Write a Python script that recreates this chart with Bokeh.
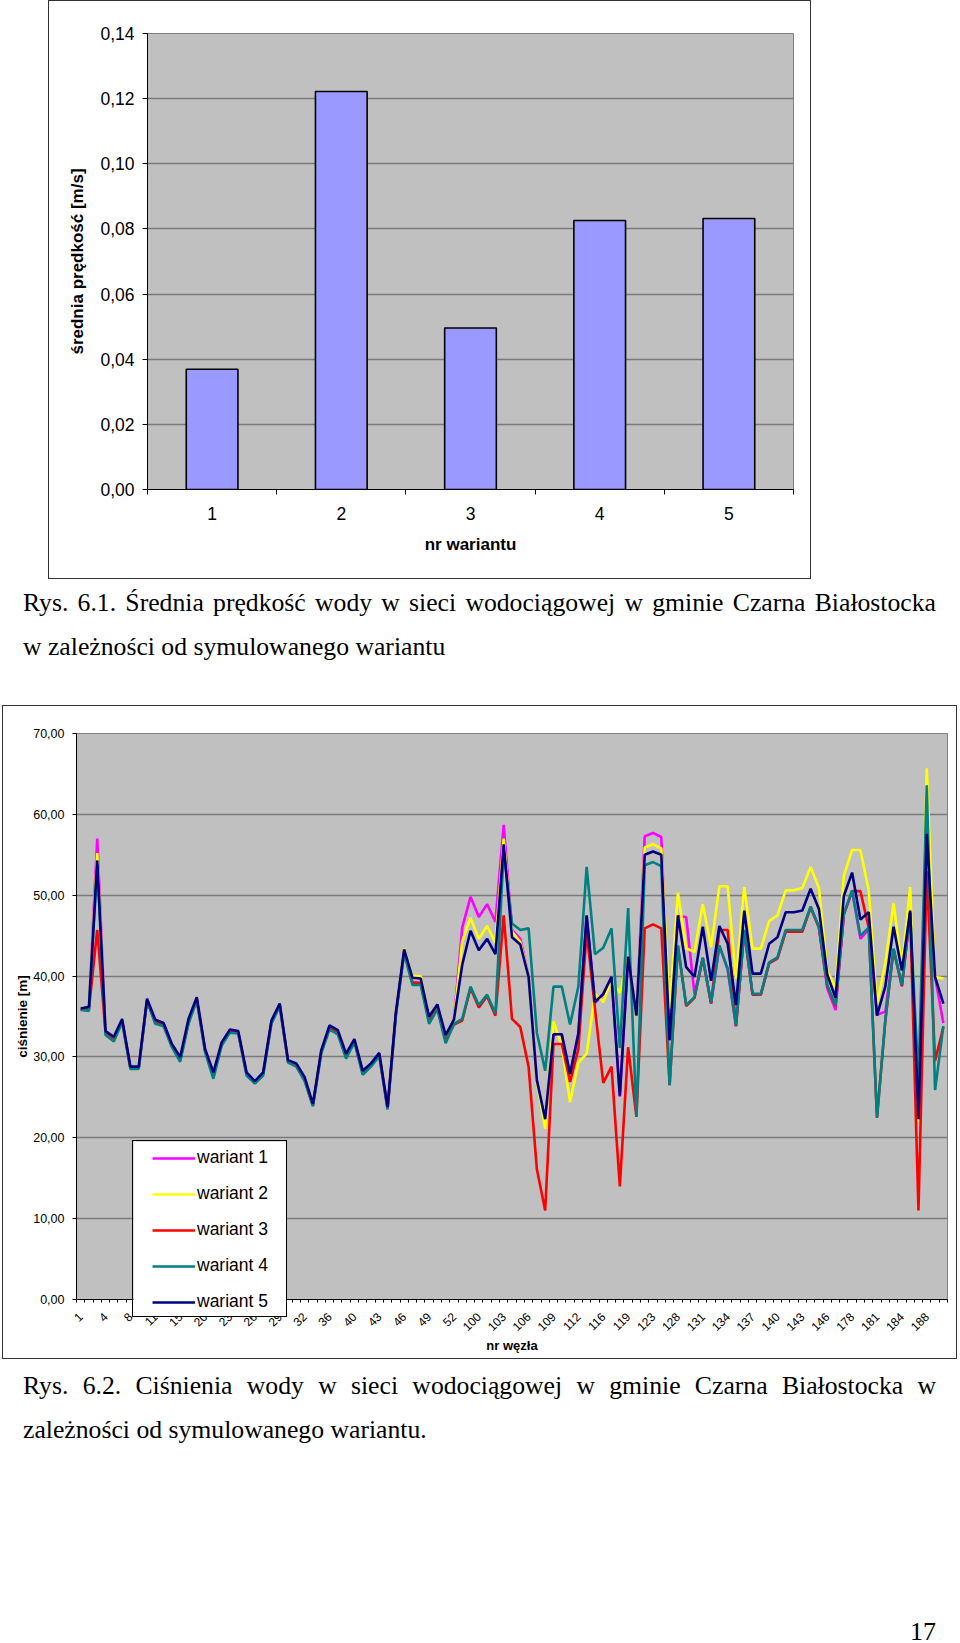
import math
from bokeh.plotting import figure
from bokeh.models import FixedTicker, Legend, LegendItem, Div
from bokeh.layouts import column
from bokeh.embed import file_html
from bokeh.resources import INLINE

# ---------------- chart 1 data ----------------
warianty = [1, 2, 3, 4, 5]
predkosc = [0.0369, 0.1222, 0.0496, 0.0826, 0.0832]
y1_ticks = [0.00, 0.02, 0.04, 0.06, 0.08, 0.10, 0.12, 0.14]
y1_labels = ["0,00", "0,02", "0,04", "0,06", "0,08", "0,10", "0,12", "0,14"]

# ---------------- chart 2 data ----------------
wezly_labels = ["1", "4", "8", "11", "15", "20", "23", "26", "29", "32", "36", "40",
                "43", "46", "49", "52", "100", "103", "106", "109", "112", "116",
                "119", "123", "128", "131", "134", "137", "140", "143", "146",
                "178", "181", "184", "188"]
label_step = 3
y2_ticks = [0, 10, 20, 30, 40, 50, 60, 70]
y2_labels = ["0,00", "10,00", "20,00", "30,00", "40,00", "50,00", "60,00", "70,00"]

wariant1 = [35.9, 36.0, 57.0, 33.0, 32.2, 34.5, 28.7, 28.7, 37.0, 34.3, 34.1, 31.4, 29.7, 34.4, 37.2,
            30.8, 27.7, 31.6, 33.2, 33.0, 27.9, 26.9, 27.9, 34.3, 36.4, 29.4, 29.0, 27.3, 24.0, 30.6,
            33.8, 33.0, 30.1, 32.0, 28.0, 29.0, 30.3, 23.6, 35.3, 43.2, 39.2, 39.2, 34.8, 36.3, 32.4,
            34.5, 46.0, 49.8, 47.3, 48.9, 46.7, 58.7, 45.7, 44.6, 40.0, 27.0, 22.0, 32.8, 32.8, 27.9,
            32.9, 47.4, 36.7, 37.7, 39.8, 25.1, 42.3, 35.0, 57.3, 57.7, 57.2, 32.0, 47.4, 47.3, 37.8,
            42.2, 36.6, 43.7, 40.8, 33.8, 45.6, 37.7, 37.7, 41.6, 42.2, 45.6, 45.6, 45.6, 48.5, 46.0,
            38.5, 35.8, 47.6, 50.5, 44.6, 45.8, 35.2, 35.6, 43.3, 38.7, 47.8, 22.2, 62.0, 39.9, 34.2]
wariant2 = [36.0, 36.1, 55.2, 33.1, 32.4, 34.6, 28.7, 28.7, 37.1, 34.5, 34.1, 31.5, 29.9, 34.6, 37.3,
            30.9, 28.0, 31.7, 33.3, 33.1, 28.0, 27.0, 28.0, 34.4, 36.5, 29.5, 29.1, 27.4, 24.1, 30.7,
            33.8, 33.2, 30.3, 32.1, 28.2, 29.1, 30.4, 23.7, 35.4, 43.4, 40.0, 40.0, 35.0, 36.4, 32.6,
            34.5, 44.3, 47.2, 44.6, 46.2, 44.1, 57.0, 45.5, 44.2, 40.0, 26.8, 21.1, 34.4, 31.4, 24.4,
            29.3, 30.4, 37.8, 36.8, 39.5, 37.9, 42.3, 35.0, 55.9, 56.3, 55.8, 36.0, 50.3, 43.4, 43.0,
            48.9, 43.6, 51.1, 51.1, 39.7, 51.0, 43.4, 43.4, 46.8, 47.5, 50.6, 50.6, 50.9, 53.5, 50.9,
            40.7, 38.5, 52.4, 55.6, 55.6, 50.6, 36.5, 41.6, 49.0, 41.2, 51.0, 22.0, 65.7, 39.9, 39.7]
wariant3 = [35.9, 35.9, 45.7, 33.0, 32.2, 34.5, 28.6, 28.6, 37.0, 34.3, 34.0, 31.4, 29.6, 34.3, 37.1,
            30.8, 27.6, 31.6, 33.2, 33.0, 27.9, 26.8, 27.9, 34.3, 36.4, 29.4, 29.0, 27.2, 24.0, 30.6,
            33.6, 33.0, 30.0, 32.0, 28.0, 29.0, 30.3, 23.6, 35.3, 43.0, 39.2, 39.1, 34.4, 36.1, 32.0,
            34.0, 34.5, 38.5, 36.1, 37.5, 35.1, 47.5, 34.7, 33.7, 28.8, 16.1, 11.0, 31.6, 31.6, 26.9,
            31.0, 45.5, 36.0, 26.8, 28.8, 14.0, 31.2, 22.6, 45.9, 46.4, 45.9, 26.5, 43.7, 36.3, 37.3,
            42.2, 36.6, 45.7, 45.7, 33.8, 45.6, 37.7, 37.7, 41.6, 42.2, 45.5, 45.5, 45.5, 48.5, 46.0,
            38.8, 36.3, 47.6, 50.5, 50.5, 46.0, 22.5, 34.4, 43.3, 38.8, 47.8, 11.0, 53.0, 29.5, 33.7]
wariant4 = [35.8, 35.7, 53.8, 32.7, 31.9, 34.3, 28.5, 28.5, 36.9, 34.1, 33.8, 31.2, 29.4, 34.1, 37.0,
            30.6, 27.3, 31.4, 33.0, 32.9, 27.7, 26.7, 27.7, 34.1, 36.3, 29.3, 28.8, 27.0, 23.9, 30.4,
            33.4, 32.8, 29.8, 31.8, 27.8, 28.8, 30.1, 23.5, 35.1, 42.8, 38.9, 38.9, 34.1, 35.9, 31.7,
            34.1, 34.7, 38.7, 36.4, 37.7, 35.4, 55.5, 46.5, 45.7, 45.9, 33.0, 28.3, 38.7, 38.7, 34.0,
            38.7, 53.5, 42.7, 43.5, 45.9, 31.1, 48.4, 22.6, 53.7, 54.1, 53.6, 26.5, 43.8, 36.4, 37.4,
            42.3, 36.7, 43.8, 40.9, 33.9, 45.7, 37.8, 37.8, 41.7, 42.3, 45.7, 45.7, 45.7, 48.6, 46.1,
            38.9, 36.4, 47.7, 50.6, 45.0, 46.0, 22.5, 34.5, 43.4, 38.9, 47.9, 27.0, 63.6, 25.9, 33.8]
wariant5 = [36.0, 36.2, 54.3, 33.2, 32.5, 34.7, 28.8, 28.8, 37.2, 34.6, 34.2, 31.6, 30.0, 34.7, 37.4,
            31.0, 28.1, 31.8, 33.4, 33.2, 28.1, 27.0, 28.1, 34.5, 36.6, 29.6, 29.2, 27.5, 24.2, 30.8,
            33.9, 33.3, 30.4, 32.2, 28.3, 29.2, 30.5, 23.8, 35.5, 43.3, 39.8, 39.7, 35.0, 36.5, 32.7,
            34.6, 41.4, 45.6, 43.2, 44.6, 42.7, 56.3, 44.8, 43.9, 39.9, 27.1, 22.3, 32.8, 32.8, 27.9,
            32.9, 47.5, 36.8, 37.8, 39.9, 25.2, 42.4, 35.1, 55.0, 55.4, 55.0, 32.1, 47.5, 41.1, 39.9,
            46.1, 39.4, 46.2, 44.0, 36.4, 48.1, 40.3, 40.3, 44.0, 44.8, 47.9, 47.9, 48.1, 50.8, 48.3,
            40.2, 37.3, 49.9, 52.8, 47.0, 47.9, 35.1, 38.7, 46.1, 40.7, 48.1, 22.3, 57.6, 39.9, 36.6]

series_names = ["wariant 1", "wariant 2", "wariant 3", "wariant 4", "wariant 5"]
series_colors = ["#FF00FF", "#FFFF00", "#FF0000", "#008080", "#000080"]
series_data = [wariant1, wariant2, wariant3, wariant4, wariant5]

SANS = "Liberation Sans"

# ---------------- chart 1 ----------------
p1 = figure(width=761, height=577, x_range=(0.5, 5.5), y_range=(0, 0.14),
            output_backend="svg", toolbar_location=None, frame_align=False,
            min_border_left=98, min_border_right=17, min_border_top=32, min_border_bottom=89,
            background_fill_color="#C0C0C0", border_fill_color="white",
            outline_line_color="#808080")
p1.vbar(x=warianty, top=predkosc, width=0.4, fill_color="#9999FF",
        line_color="black", line_width=1.6)

p1.yaxis.ticker = FixedTicker(ticks=y1_ticks)
p1.yaxis.major_label_overrides = {t: l for t, l in zip(y1_ticks, y1_labels)}
p1.yaxis.axis_label = "średnia prędkość [m/s]"
p1.xaxis.ticker = FixedTicker(ticks=warianty,
                              minor_ticks=[w - 0.5 for w in warianty] + [warianty[-1] + 0.5])
p1.xaxis.major_label_overrides = {w: str(w) for w in warianty}
p1.xaxis.axis_label = "nr wariantu"
for ax in (p1.xaxis[0], p1.yaxis[0]):
    ax.axis_line_color = "black"
    ax.major_label_text_font = SANS
    ax.major_label_text_font_size = "17.5px"
    ax.major_label_text_color = "black"
    ax.axis_label_text_font = SANS
    ax.axis_label_text_font_size = "17px"
    ax.axis_label_text_font_style = "bold"
    ax.axis_label_text_color = "black"
    ax.major_tick_in = 0
    ax.minor_tick_in = 0
p1.yaxis.major_tick_out = 5
p1.yaxis.major_tick_line_color = "black"
p1.yaxis.major_label_standoff = 8
p1.yaxis.axis_label_standoff = 10
p1.xaxis.major_tick_out = 0
p1.xaxis.minor_tick_out = 5
p1.xaxis.minor_tick_line_color = "black"
p1.xaxis.major_label_standoff = 12
p1.xaxis.axis_label_standoff = 12
p1.xgrid.grid_line_color = None
p1.ygrid.grid_line_color = "#7A7A7A"
p1.ygrid.grid_line_width = 1.5
p1.margin = (1, 0, 0, 49)
p1.styles = {"outline": "1px solid #333"}

# ---------------- caption 1 ----------------
cap_style = ("font-family:'Liberation Serif',serif;font-size:25.7px;line-height:44px;"
             "color:#000;width:913px;")
cap1 = Div(text=(f'<div style="{cap_style}">'
                 '<div style="text-align:justify;text-align-last:justify;">'
                 'Rys. 6.1. Średnia prędkość wody w sieci wodociągowej w gminie Czarna Białostocka</div>'
                 '<div style="text-align:left;">w zależności od symulowanego wariantu</div></div>'),
           width=913, height=88, margin=(3, 0, 0, 23))

# ---------------- chart 2 ----------------
n = len(wariant1)
xs = list(range(n))
p2 = figure(width=953, height=652, x_range=(-0.5, n - 0.5), y_range=(0, 70),
            output_backend="svg", toolbar_location=None, frame_align=False,
            min_border_left=73, min_border_right=9, min_border_top=27, min_border_bottom=59,
            background_fill_color="#C0C0C0", border_fill_color="white",
            outline_line_color="#808080")
for data, col in zip(series_data, series_colors):
    p2.line(xs, data, line_color=col, line_width=2.6)

label_pos = [i * label_step for i in range(len(wezly_labels))]
p2.xaxis.ticker = FixedTicker(ticks=label_pos, minor_ticks=[i - 0.5 for i in range(n + 1)])
p2.xaxis.major_label_overrides = {pos: lab for pos, lab in zip(label_pos, wezly_labels)}
p2.xaxis.major_label_orientation = math.pi / 4
p2.xaxis.axis_label = "nr węzła"
p2.yaxis.ticker = FixedTicker(ticks=y2_ticks)
p2.yaxis.major_label_overrides = {t: l for t, l in zip(y2_ticks, y2_labels)}
p2.yaxis.axis_label = "ciśnienie [m]"
for ax in (p2.xaxis[0], p2.yaxis[0]):
    ax.axis_line_color = "black"
    ax.major_label_text_font = SANS
    ax.major_label_text_color = "black"
    ax.axis_label_text_font = SANS
    ax.axis_label_text_font_style = "bold"
    ax.axis_label_text_color = "black"
    ax.major_tick_in = 0
    ax.minor_tick_in = 0
p2.yaxis.major_label_text_font_size = "12.5px"
p2.yaxis.axis_label_text_font_size = "13.5px"
p2.yaxis.major_tick_out = 4
p2.yaxis.major_tick_line_color = "black"
p2.yaxis.major_label_standoff = 8
p2.yaxis.axis_label_standoff = 0
p2.xaxis.major_label_text_font_size = "12px"
p2.xaxis.axis_label_text_font_size = "13px"
p2.xaxis.major_tick_out = 0
p2.xaxis.minor_tick_out = 3
p2.xaxis.minor_tick_line_color = "black"
p2.xaxis.major_label_standoff = 12
p2.xaxis.axis_label_standoff = 0
p2.xgrid.grid_line_color = None
p2.ygrid.grid_line_color = "#7A7A7A"
p2.ygrid.grid_line_width = 1.5
p2.margin = (37, 0, 0, 3)
p2.styles = {"outline": "1px solid #333"}

# ---------------- legend box (overlaid on chart 2, reaching below its axis) ----------------
pl = figure(width=153, height=175, x_range=(0, 1), y_range=(0, 1),
            output_backend="svg", toolbar_location=None, frame_align=False,
            x_axis_location=None, y_axis_location=None,
            min_border_left=0, min_border_right=0, min_border_top=0, min_border_bottom=0,
            background_fill_color="white", border_fill_color="white", outline_line_color=None)
pl.grid.visible = False
# legend proxies: each series' own values, placed outside this box's visible range
proxies = [pl.line([x - n for x in xs], data, line_color=c, line_width=2.6)
           for data, c in zip(series_data, series_colors)]
legend = Legend(items=[LegendItem(label=nm, renderers=[r]) for nm, r in zip(series_names, proxies)],
                location=(19, 4), margin=0, padding=0, spacing=15,
                glyph_width=43, glyph_height=20, label_height=20, label_standoff=2,
                label_text_font=SANS, label_text_font_size="17.5px", label_text_color="black",
                border_line_color=None, background_fill_alpha=0.0)
pl.add_layout(legend)
pl.margin = (-217, 0, 0, 133)
pl.styles = {"outline": "1px solid black", "position": "relative", "z-index": "5"}

# ---------------- caption 2 ----------------
cap2 = Div(text=(f'<div style="{cap_style}">'
                 '<div style="text-align:justify;text-align-last:justify;">'
                 'Rys. 6.2. Ciśnienia wody w sieci wodociągowej w gminie Czarna Białostocka w</div>'
                 '<div style="text-align:left;">zależności od symulowanego wariantu.</div></div>'),
           width=913, height=88, margin=(48, 0, 0, 23))

pagenum = Div(text=('<div style="font-family:\'Liberation Serif\',serif;font-size:26px;'
                    'line-height:26px;text-align:right;color:#000;width:913px;">17</div>'),
              width=913, height=22, margin=(167, 0, 0, 23))

layout = column(p1, cap1, p2, pl, cap2, pagenum, spacing=0)
open("out.html", "w").write(file_html(layout, INLINE))
